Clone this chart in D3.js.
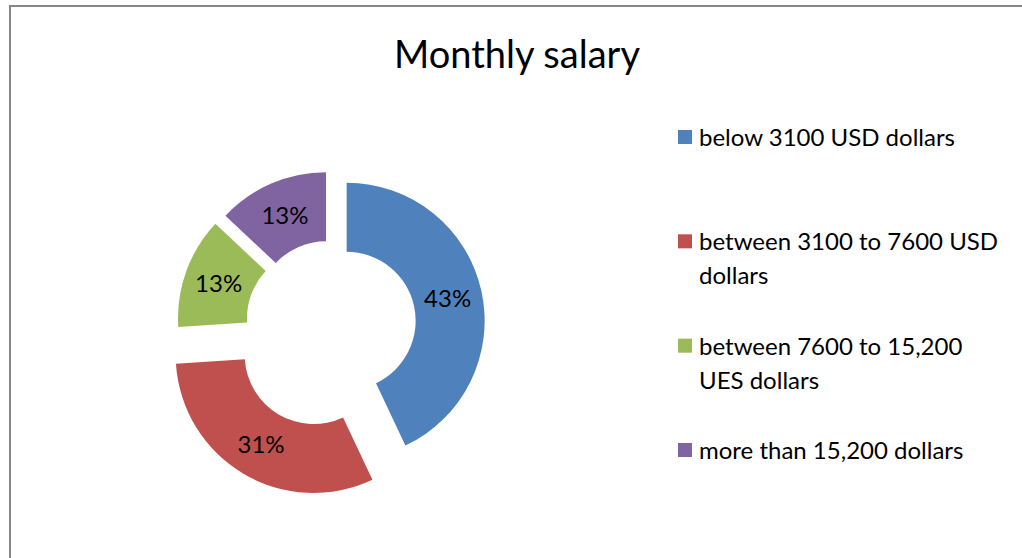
<!DOCTYPE html>
<html>
<head>
<meta charset="utf-8">
<style>
  body { margin: 0; background: #fff; }
  svg { display: block; font-family: Lato, 'Open Sans', sans-serif; }
</style>
</head>
<body>
<svg width="1022" height="558"></svg>
<script src="https://d3js.org/d3.v7.min.js"></script>
<script>
// chart data
const title = "Monthly salary";
const categories = [
  "below 3100 USD dollars",
  "between 3100 to 7600 USD dollars",
  "between 7600 to 15,200 UES dollars",
  "more than 15,200 dollars"
];
const shares = [43, 31, 13, 13];
const colors = ["#4F81BD", "#C0504D", "#9BBB59", "#8064A2"];

// how far each slice is pulled out of the ring (px)
const explode = [15, 36, 17, 15];

const width = 1022, height = 558;
const cx = 332, cy = 324;
const outerR = 138, innerR = 69;

const svg = d3.select("svg");

// chart area border (runs off the bottom/right of the window)
svg.append("rect")
  .attr("x", 10).attr("y", 6)
  .attr("width", 1040).attr("height", 600)
  .attr("fill", "none")
  .attr("stroke", "#868686")
  .attr("stroke-width", 2);

svg.append("text")
  .attr("x", 517).attr("y", 68)
  .attr("text-anchor", "middle")
  .style("font-size", "38px")
  .style("fill", "#000")
  .text(title);

const pie = d3.pie().sort(null).value(d => d);
const arc = d3.arc().innerRadius(innerR).outerRadius(outerR);
const arcs = pie(shares);

const g = svg.append("g").attr("transform", `translate(${cx},${cy})`);

const slices = g.selectAll("g.slice")
  .data(arcs)
  .join("g")
  .attr("class", "slice")
  .attr("transform", (d, i) => {
    let a = (d.startAngle + d.endAngle) / 2;
    return `translate(${Math.sin(a) * explode[i]},${-Math.cos(a) * explode[i]})`;
  });

slices.append("path")
  .attr("d", arc)
  .attr("fill", (d, i) => colors[i]);

slices.append("text")
  .attr("transform", d => `translate(${arc.centroid(d)})`)
  .attr("text-anchor", "middle")
  .attr("dy", "0.36em")
  .style("font-size", "24px")
  .style("fill", "#000")
  .text(d => d.data + "%");

// legend
const legendY = d3.scaleLinear().domain([0, categories.length - 1]).range([137, 450]);
const maxW = 305;

const legend = svg.append("g").selectAll("g")
  .data(categories)
  .join("g")
  .attr("transform", (d, i) => `translate(678,${legendY(i)})`);

legend.append("rect")
  .attr("x", 0).attr("y", -7)
  .attr("width", 14).attr("height", 14)
  .attr("fill", (d, i) => colors[i]);

legend.each(function(label) {
  let t = d3.select(this).append("text")
    .attr("x", 21).attr("y", 9)
    .style("font-size", "24px")
    .style("fill", "#000");
  // simple word wrap
  let words = label.split(" ");
  let line = [];
  let ts = t.append("tspan").attr("x", 21).attr("dy", 0);
  words.forEach(w => {
    line.push(w);
    ts.text(line.join(" "));
    if (ts.node().getComputedTextLength() > maxW && line.length > 1) {
      line.pop();
      ts.text(line.join(" "));
      line = [w];
      ts = t.append("tspan").attr("x", 21).attr("dy", 34).text(w);
    }
  });
});
</script>
</body>
</html>
